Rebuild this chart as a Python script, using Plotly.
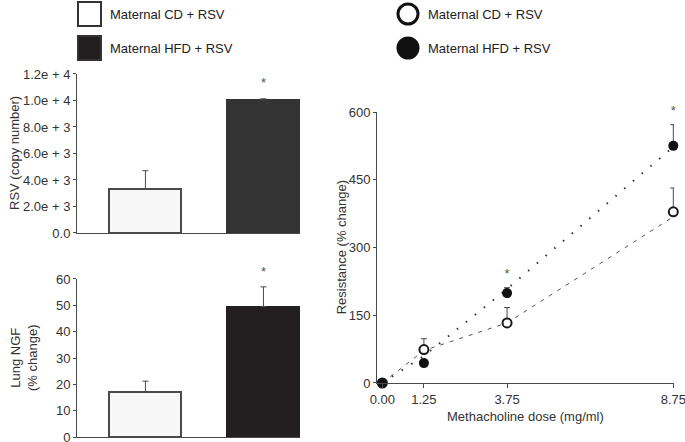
import plotly.graph_objects as go

# Data
groups = ["Maternal CD + RSV", "Maternal HFD + RSV"]
rsv_copy = [3300, 10050]
rsv_err = [1400, 80]
ngf_change = [17, 49.5]
ngf_err = [4.2, 7.5]

dose = [0, 1.25, 3.75, 8.75]
dose_labels = ["0.00", "1.25", "3.75", "8.75"]
res_cd = [0, 74, 133, 379]
res_cd_err = [0, 24, 34, 53]
res_hfd = [0, 44, 199, 525]
res_hfd_err = [0, 0, 12, 47]
# fitted trend lines as drawn in the figure
trend_cd = [0, 72, 133, 368]
trend_hfd = [0, 60, 208, 523]

rsv_ticks = [0, 2000, 4000, 6000, 8000, 10000, 12000]
rsv_ticktext = ["0.0", "2.0e + 3", "4.0e + 3", "6.0e + 3", "8.0e + 3", "1.0e + 4", "1.2e + 4"]

FONT = "Liberation Sans, Arial, sans-serif"
AX = "#4a4a4a"
fill_cd = "#f7f7f7"
fill_hfd_top = "#333333"
fill_hfd = "#231f20"
star_font = dict(size=13, color="#555", family=FONT)

fig = go.Figure()

# Top-left: RSV copy number
fig.add_trace(go.Bar(
    x=groups, y=rsv_copy, width=0.61,
    marker=dict(color=[fill_cd, fill_hfd_top], line=dict(color=[AX, fill_hfd_top], width=2)),
    error_y=dict(type="data", array=rsv_err, arrayminus=[0, 0], symmetric=False,
                 color=AX, thickness=1, width=3),
    xaxis="x", yaxis="y", showlegend=False,
))
fig.add_trace(go.Scatter(
    x=[groups[1]], y=[11300], mode="text", text=["*"], cliponaxis=False,
    textfont=star_font, xaxis="x", yaxis="y", showlegend=False,
))

# Bottom-left: Lung NGF
fig.add_trace(go.Bar(
    x=groups, y=ngf_change, width=0.61,
    marker=dict(color=[fill_cd, fill_hfd], line=dict(color=[AX, fill_hfd], width=2)),
    error_y=dict(type="data", array=ngf_err, arrayminus=[0, 0], symmetric=False,
                 color=AX, thickness=1, width=3),
    xaxis="x2", yaxis="y2", showlegend=False,
))
fig.add_trace(go.Scatter(
    x=[groups[1]], y=[60], mode="text", text=["*"], textposition="top center",
    cliponaxis=False, textfont=star_font, xaxis="x2", yaxis="y2", showlegend=False,
))

# Right: airway resistance
fig.add_trace(go.Scatter(
    x=dose, y=trend_cd, mode="lines", line=dict(color="#555", width=1, dash="4px,6px"),
    xaxis="x3", yaxis="y3", showlegend=False, hoverinfo="skip",
))
fig.add_trace(go.Scatter(
    x=dose, y=trend_hfd, mode="lines", line=dict(color="#333", width=2, dash="1.5px,10px"),
    xaxis="x3", yaxis="y3", showlegend=False, hoverinfo="skip",
))
fig.add_trace(go.Scatter(
    x=dose, y=res_cd, mode="markers", cliponaxis=False,
    marker=dict(symbol="circle", size=9, color="white", line=dict(color="#1a1a1a", width=2)),
    error_y=dict(type="data", array=res_cd_err, arrayminus=[0] * 4, symmetric=False,
                 color=AX, thickness=1, width=3),
    xaxis="x3", yaxis="y3", showlegend=False,
))
fig.add_trace(go.Scatter(
    x=dose, y=res_hfd, mode="markers", cliponaxis=False,
    marker=dict(symbol="circle", size=10, color="#111"),
    error_y=dict(type="data", array=res_hfd_err, arrayminus=[0] * 4, symmetric=False,
                 color=AX, thickness=1, width=3),
    xaxis="x3", yaxis="y3", showlegend=False,
))
fig.add_trace(go.Scatter(
    x=[3.75, 8.75], y=[240, 600], mode="text", text=["*", "*"], cliponaxis=False,
    textfont=star_font, xaxis="x3", yaxis="y3", showlegend=False,
))

bar_x = dict(type="category", range=[-0.58, 1.31], showticklabels=False, ticks="",
             showline=True, linecolor=AX, linewidth=1, showgrid=False, zeroline=False,
             fixedrange=True, automargin=False)
left_y = dict(showline=True, linecolor=AX, linewidth=1, ticks="outside", ticklen=3,
              tickcolor=AX, showgrid=False, zeroline=False, automargin=False,
              ticklabeloverflow="allow",
              tickfont=dict(size=13, color="#333", family=FONT))

fig.update_layout(
    template="none",
    width=685, height=442,
    margin=dict(l=0, r=0, t=0, b=0, pad=0),
    paper_bgcolor="white", plot_bgcolor="white",
    font=dict(family=FONT, color="#333", size=13),
    bargap=0,
    xaxis=dict(bar_x, domain=[0.1124, 0.438], anchor="y"),
    yaxis=dict(left_y, domain=[0.4729, 0.8326], range=[0, 12000], anchor="x",
               tickvals=rsv_ticks, ticktext=rsv_ticktext),
    xaxis2=dict(bar_x, domain=[0.1124, 0.438], anchor="y2"),
    yaxis2=dict(left_y, domain=[0.0113, 0.3688], range=[0, 60], anchor="x2",
                tickvals=[0, 10, 20, 30, 40, 50, 60]),
    xaxis3=dict(domain=[0.5504, 0.9839], range=[-0.16, 8.77], anchor="y3",
                tickvals=dose, ticktext=dose_labels, showline=True, linecolor=AX,
                linewidth=1, ticks="outside", ticklen=4, tickcolor=AX, showgrid=False,
                zeroline=False, automargin=False, ticklabeloverflow="allow",
                tickfont=dict(size=13, color="#333", family=FONT)),
    yaxis3=dict(left_y, domain=[0.1335, 0.7466], range=[0, 600], anchor="x3",
                tickvals=[0, 150, 300, 450, 600]),
)

# Axis titles
titles = [
    (0.022, 0.654, "RSV (copy number)"),
    (0.035, 0.19, "Lung NGF<br>(% change)"),
    (0.499, 0.44, "Resistance (% change)"),
]
for x, y, t in titles:
    fig.add_annotation(x=x, y=y, xref="paper", yref="paper", text=t, showarrow=False,
                       textangle=-90, xanchor="center", yanchor="middle",
                       font=dict(size=13, color="#333", family=FONT))
fig.add_annotation(x=0.767, y=0.057, xref="paper", yref="paper",
                   text="Methacholine dose (mg/ml)", showarrow=False,
                   xanchor="center", yanchor="middle",
                   font=dict(size=13, color="#333", family=FONT))

# Legends drawn as shapes + text
legend_items = ["Maternal CD + RSV", "Maternal HFD + RSV"]
legend_rows = [14, 48]
for i, (label, cy) in enumerate(zip(legend_items, legend_rows)):
    fc = "white" if i == 0 else fill_hfd
    fig.add_shape(type="rect", xref="paper", yref="paper",
                  x0=78 / 685, x1=101 / 685, y0=1 - (cy - 12) / 442, y1=1 - (cy + 12) / 442,
                  fillcolor=fc, line=dict(color="#333", width=2))
    fig.add_annotation(x=108 / 685, y=1 - cy / 442, xref="paper", yref="paper", text=label,
                       showarrow=False, xanchor="left", yanchor="middle",
                       font=dict(size=13, color="#222", family=FONT))
    fc2 = "white" if i == 0 else "#111"
    fig.add_shape(type="circle", xref="paper", yref="paper",
                  x0=(408 - 10) / 685, x1=(408 + 10) / 685,
                  y0=1 - (cy - 10) / 442, y1=1 - (cy + 10) / 442,
                  fillcolor=fc2, line=dict(color="#111", width=3))
    fig.add_annotation(x=426 / 685, y=1 - cy / 442, xref="paper", yref="paper", text=label,
                       showarrow=False, xanchor="left", yanchor="middle",
                       font=dict(size=13, color="#222", family=FONT))

# drop the default page margin so the figure fills the window exactly
fig.write_html("out.html", config={"displayModeBar": False},
               post_script="document.body.style.margin='0';")
